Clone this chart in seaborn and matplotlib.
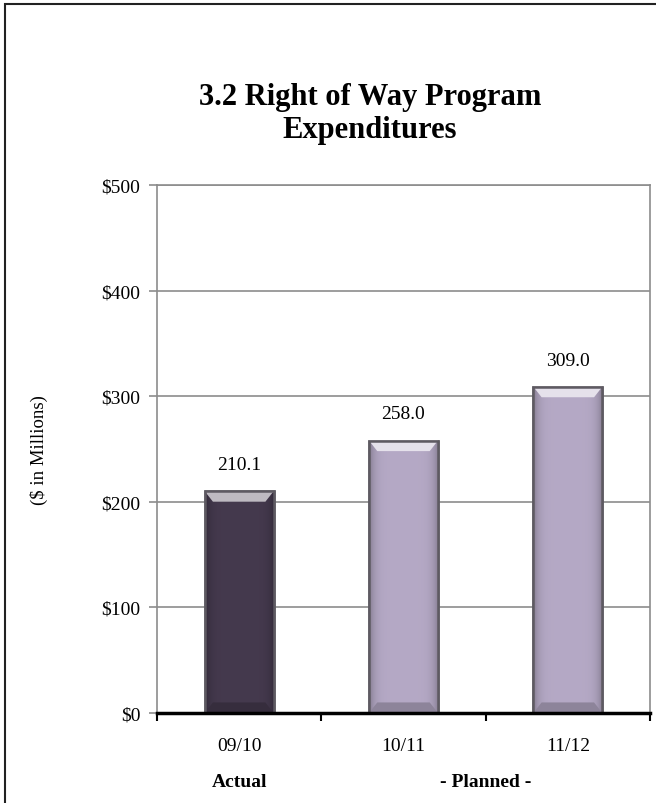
import matplotlib
matplotlib.use("Agg")
import matplotlib.pyplot as plt
import matplotlib.transforms as mtransforms
from matplotlib.patches import Polygon, Rectangle
from matplotlib.colors import to_rgb
import numpy as np
import pandas as pd
import seaborn as sns

# Data
years = ["09/10", "10/11", "11/12"]
spend = [210.1, 258.0, 309.0]
status = ["Actual", "Planned", "Planned"]
yticks = [0, 100, 200, 300, 400, 500]
ytick_labels = ["$0", "$100", "$200", "$300", "$400", "$500"]
group_labels = ["Actual", "- Planned -"]

df = pd.DataFrame({"year": years, "spend": spend, "status": status})

sns.set_theme(style="white")
plt.rcParams["font.family"] = ["Liberation Serif", "DejaVu Serif"]
plt.rcParams["text.color"] = "black"
plt.rcParams["axes.labelcolor"] = "black"

fig = plt.figure(figsize=(6.56, 8.04), dpi=100)
ax = fig.add_axes([157 / 656, 1 - 714 / 804, (650 - 157) / 656, (714 - 186) / 804])

palette = {"Actual": "#453651", "Planned": "#B4A4CA"}
sns.barplot(data=df, x="year", y="spend", hue="status", palette=palette,
            dodge=False, width=0.42, legend=False, ax=ax, zorder=3,
            edgecolor="#5E5A62", linewidth=1.8)

ax.set_ylim(0, 500)
ax.set_xlim(-0.5, 2.5)
ax.set_yticks(yticks)
ax.set_yticklabels(ytick_labels)
ax.yaxis.grid(True, color="#8C8C8C", linewidth=1.2, zorder=0)
ax.set_axisbelow(True)

# Bevel shading on each bar
def shade(c, f):
    r = np.array(to_rgb(c))
    return tuple(np.clip(r * f, 0, 1))

def lighten(c, f):
    r = np.array(to_rgb(c))
    return tuple(np.clip(r + (1 - r) * f, 0, 1))

for bar in ax.patches:
    base = bar.get_facecolor()[:3]
    x0, w, h = bar.get_x(), bar.get_width(), bar.get_height()
    # horizontal gradient: darker toward the sides
    t = np.linspace(-1, 1, 200)
    prof = 1 - 0.28 * np.abs(t) ** 6
    img = np.array([[shade(base, p) for p in prof]])
    im = ax.imshow(img, extent=[x0, x0 + w, 0, h], aspect="auto", zorder=3.1,
                   interpolation="bilinear")
    im.set_clip_path(bar)
    # top highlight bevel
    bw = w * 0.12
    bh = 10
    top = Polygon([[x0, h], [x0 + w, h], [x0 + w - bw, h - bh], [x0 + bw, h - bh]],
                  closed=True, facecolor=lighten(base, 0.65), edgecolor="none", zorder=3.2)
    ax.add_patch(top)
    bot = Polygon([[x0, 0], [x0 + w, 0], [x0 + w - bw, bh], [x0 + bw, bh]],
                  closed=True, facecolor=shade(base, 0.78), edgecolor="none", zorder=3.2)
    ax.add_patch(bot)
    ax.add_patch(Rectangle((x0, 0), w, h, fill=False, edgecolor="#5E5A62",
                           linewidth=1.8, zorder=3.3))

# value labels
for i, v in enumerate(spend):
    ax.annotate(f"{v:.1f}", (i, v), xytext=(0, 13), textcoords="offset points",
                ha="center", va="bottom", fontsize=14, color="black")

ax.set_xlabel("")
ax.set_ylabel("($ in Millions)", fontsize=13.5, labelpad=38, color="black")

# spines and ticks
for s in ["left", "right", "top"]:
    ax.spines[s].set_visible(True)
    ax.spines[s].set_color("#8C8C8C")
    ax.spines[s].set_linewidth(1.2)
ax.spines["bottom"].set_color("black")
ax.spines["bottom"].set_linewidth(2.5)
ax.spines["bottom"].set_zorder(5)

ax.tick_params(axis="y", which="major", left=True, length=6, width=1.2,
               color="#8C8C8C", labelsize=14, pad=6, labelcolor="black")
ax.set_xticks([0, 1, 2])
ax.set_xticks([-0.5, 0.5, 1.5, 2.5], minor=True)
ax.tick_params(axis="x", which="major", length=0, labelsize=14, pad=17,
               labelcolor="black")
ax.tick_params(axis="x", which="minor", bottom=True, length=6, width=1.5,
               color="black")

# group captions under the category labels
trans = mtransforms.blended_transform_factory(ax.transData, ax.transAxes)
ax.text(0, -0.13, group_labels[0], transform=trans, ha="center", va="center",
        fontsize=14, fontweight="bold", color="black")
ax.text(1.5, -0.13, group_labels[1], transform=trans, ha="center", va="center",
        fontsize=14, fontweight="bold", color="black")

# title
fig.text(370 / 656, 1 - 114 / 804, "3.2 Right of Way Program\nExpenditures",
         ha="center", va="center", fontsize=22, fontweight="bold",
         linespacing=1.2, color="black")

# chart frame
fig.add_artist(Rectangle((5 / 656, -0.05), 1.2, 1 - 5 / 804 + 0.05,
                         transform=fig.transFigure, fill=False,
                         edgecolor="#222222", linewidth=1.5))

fig.savefig("out.png", dpi=100, facecolor="white")
